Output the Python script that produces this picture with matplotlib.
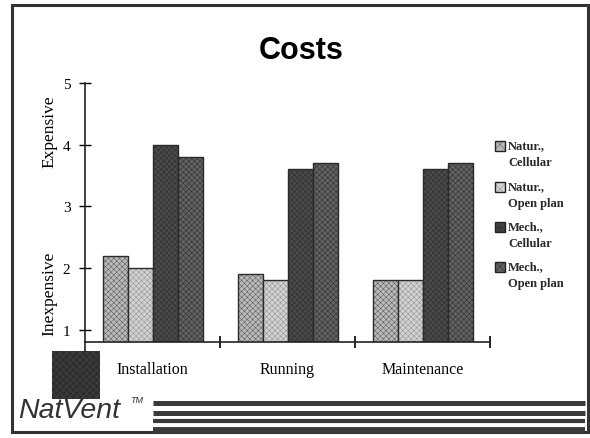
#!/usr/bin/env python3
"""Bar chart of relative costs for natural and mechanical ventilation."""

import matplotlib
matplotlib.use("Agg")
import matplotlib.pyplot as plt
from matplotlib.patches import Rectangle
from matplotlib.lines import Line2D
import numpy as np

# -----------------------------------------------------------------------------
# DATA
# -----------------------------------------------------------------------------
CATEGORIES = ["Installation", "Running", "Maintenance"]
SERIES = ["Natur.,\nCellular", "Natur.,\nOpen plan", "Mech.,\nCellular", "Mech.,\nOpen plan"]
NATUR_CELLULAR = [2.2, 1.9, 1.8]
NATUR_OPEN = [2.0, 1.8, 1.8]
MECH_CELLULAR = [4.0, 3.6, 3.6]
MECH_OPEN = [3.8, 3.7, 3.7]
Y_TICKS = [1, 2, 3, 4, 5]

# Styles for the four series (face, hatch colour)
FACES = ["#bababa", "#d2d2d2", "#3a3a3a", "#626262"]
HATCH = "xxxxxx"
EDGES = ["#555555", "#8e8e8e", "#5a5a5a", "#2a2a2a"]

W, H = 590, 439
plt.rcParams["font.family"] = ["Liberation Serif", "DejaVu Serif"]
plt.rcParams["hatch.linewidth"] = 0.35


def px(x, y):
    """Pixel position (from top-left) to figure fraction."""
    return x / W, 1 - y / H


fig = plt.figure(figsize=(W / 100, H / 100), dpi=100)

left, top = px(85, 84)
right, bottom = px(490, 343)
ax = fig.add_axes([left, bottom, right - left, top - bottom])

values = [NATUR_CELLULAR, NATUR_OPEN, MECH_CELLULAR, MECH_OPEN]
centers = np.arange(len(CATEGORIES)) + 0.5
bar_w = 25 / 135
for i, vals in enumerate(values):
    offs = (i - 1.5) * bar_w
    bars = ax.bar(centers + offs, vals, width=bar_w, color=FACES[i],
                  hatch=HATCH, edgecolor=EDGES[i], linewidth=0)
    for b in bars:
        # dark outline drawn on top of the hatched fill
        ax.add_patch(Rectangle(b.get_xy(), b.get_width(), b.get_height(),
                               fill=False, edgecolor="#2a2a2a", linewidth=1.0))

ax.set_xlim(0, 3)
ax.set_ylim(0.8, 5.0)
ax.set_yticks(Y_TICKS)
ax.set_xticks([1, 2, 3])
ax.set_xticklabels([])
ax.set_xticks(centers, minor=True)
ax.set_xticklabels(CATEGORIES, minor=True, fontsize=11.5)
ax.tick_params(axis="x", which="minor", length=0, pad=14)
ax.tick_params(axis="x", which="major", direction="inout", length=8, width=1.2)
ax.tick_params(axis="y", direction="inout", length=9, width=1.0,
               labelsize=11, pad=6)
for side in ["top", "right"]:
    ax.spines[side].set_visible(False)
for side in ["left", "bottom"]:
    ax.spines[side].set_linewidth(1.2)
    ax.spines[side].set_color("#222222")
ax.patch.set_alpha(0)

# axis captions on the left
fig.text(*px(49, 132), "Expensive", rotation=90, ha="center", va="center",
         fontsize=12.5)
fig.text(*px(49, 294), "Inexpensive", rotation=90, ha="center", va="center",
         fontsize=12.5)

# legend drawn by hand so the swatch sits on the first text line
leg_rows = [147, 188, 228, 268]
for i, label in enumerate(SERIES):
    x0, y0 = px(495, leg_rows[i] + 5)
    sw, sh = 10 / W, 10 / H
    fig.add_artist(Rectangle((x0, y0), sw, sh, transform=fig.transFigure,
                             facecolor=FACES[i], hatch="xxx",
                             edgecolor=EDGES[i], linewidth=0))
    fig.add_artist(Rectangle((x0, y0), sw, sh, transform=fig.transFigure,
                             fill=False, edgecolor="#222222", linewidth=1.0))
    fig.text(*px(508, leg_rows[i] - 7), label, ha="left", va="top",
             fontsize=9, fontweight="bold", linespacing=1.6, color="#2a2a2a")

# title
fig.text(*px(301, 51), "Costs", ha="center", va="center", fontsize=22,
         fontweight="bold", family=["Liberation Sans", "DejaVu Sans"])

# y axis runs on into the dark block under the origin
fig.add_artist(Line2D([85 / W, 85 / W], [1 - 343 / H, 1 - 352 / H],
                      transform=fig.transFigure, color="#222222", lw=1.2))
bx, by = px(52, 400)
fig.add_artist(Rectangle((bx, by), 48 / W, 48 / H, transform=fig.transFigure,
                         facecolor="#2e2e2e", hatch="xxxxx", edgecolor="#4a4a4a",
                         linewidth=0))

# logo and stripes at the foot
fig.text(*px(18, 418), "NatVent", ha="left", va="baseline", fontsize=20.5,
         style="italic", color="#333333", family=["Liberation Sans", "DejaVu Sans"])
fig.text(*px(130, 403), "TM", ha="left", va="baseline", fontsize=6.5,
         style="italic", color="#333333", family=["Liberation Sans", "DejaVu Sans"])
for y, lw in [(404, 3.6), (413.5, 3.6), (421.5, 3.0), (431, 4.2)]:
    fig.add_artist(Line2D([153 / W, 585 / W], [1 - y / H, 1 - y / H],
                          transform=fig.transFigure, color="#3a3a3a", lw=lw,
                          solid_capstyle="butt"))

# outer frame
fx, fy = px(12, 433)
fig.add_artist(Rectangle((fx, fy), 576 / W, 427 / H, transform=fig.transFigure,
                         fill=False, edgecolor="#333333", linewidth=2.2))

fig.savefig("out.png", dpi=100)
